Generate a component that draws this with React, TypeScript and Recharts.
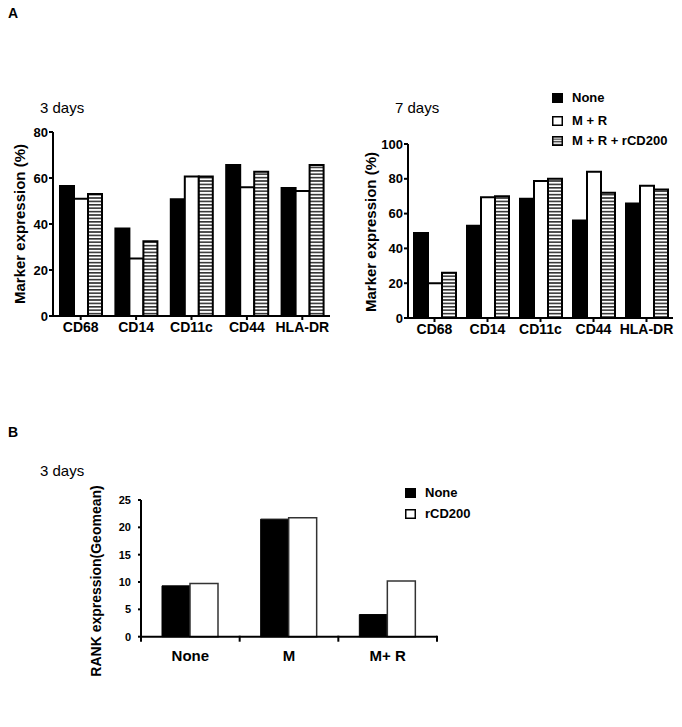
import { BarChart, Bar, XAxis, YAxis } from 'recharts'

// panel A categories and series
const markers = ['CD68', 'CD14', 'CD11c', 'CD44', 'HLA-DR']
const none3 = [56.5, 38, 50.8, 65.7, 55.6]
const mr3 = [51, 25, 60.7, 56, 54.3]
const mrCd3 = [53, 32.5, 60.7, 62.7, 65.7]
const none7 = [48.8, 53, 68.5, 56, 65.8]
const mr7 = [20, 69.4, 78.7, 84, 76]
const mrCd7 = [26, 70, 80, 72, 73.8]
const ticks3 = [0, 20, 40, 60, 80]
const ticks7 = [0, 20, 40, 60, 80, 100]

// panel B
const groupsB = ['None', 'M', 'M+ R']
const noneB = [9.3, 21.5, 4.05]
const rcdB = [9.75, 21.75, 10.2]
const ticksB = [0, 5, 10, 15, 20, 25]

const data3 = markers.map((m, i) => ({ name: m, none: none3[i], mr: mr3[i], mrc: mrCd3[i] }))
const data7 = markers.map((m, i) => ({ name: m, none: none7[i], mr: mr7[i], mrc: mrCd7[i] }))
const dataB = groupsB.map((g, i) => ({ name: g, none: noneB[i], rcd: rcdB[i] }))

const ARIAL = '"Liberation Sans", Arial, Helvetica, sans-serif'
const NARROW = '"Liberation Sans Narrow", "Liberation Sans", Arial, sans-serif'
const B_PLOT_W = 296

const tickA = { fill: '#000', fontSize: 13, fontWeight: 700, fontFamily: ARIAL }
const tickAx = { fill: '#000', fontSize: 14, fontWeight: 700, fontFamily: ARIAL }

function Hatch({ id }: { id: string }) {
	return (
		<defs>
			<pattern id={id} width={4} height={3.4} patternUnits="userSpaceOnUse">
				<rect width={4} height={3.4} fill="#fff" />
				<rect width={4} height={1.6} fill="#333" />
			</pattern>
		</defs>
	)
}

function BTick(props: any) {
	const { x, y, payload, index } = props
	const band = B_PLOT_W / groupsB.length
	return (
		<g>
			<line x1={x - band / 2} x2={x - band / 2} y1={y - 1} y2={y + 5} stroke="#000" strokeWidth={2} />
			{index === groupsB.length - 1 && (
				<line x1={x + band / 2} x2={x + band / 2} y1={y - 1} y2={y + 5} stroke="#000" strokeWidth={2} />
			)}
			<text x={x} y={y + 24} textAnchor="middle" fill="#000" fontSize={15} fontWeight={700} fontFamily={NARROW}>
				{payload.value}
			</text>
		</g>
	)
}

function Swatch({ kind, id }: { kind: 'black' | 'white' | 'hatch'; id: string }) {
	return (
		<svg width={11} height={10} style={{ display: 'block' }}>
			{kind === 'hatch' && (
				<defs>
					<pattern id={id} width={4} height={2.6} patternUnits="userSpaceOnUse">
						<rect width={4} height={2.6} fill="#fff" />
						<rect width={4} height={1.2} fill="#333" />
					</pattern>
				</defs>
			)}
			<rect
				x={0.75}
				y={0.75}
				width={9.5}
				height={8.5}
				fill={kind === 'black' ? '#000' : kind === 'white' ? '#fff' : `url(#${id})`}
				stroke="#000"
				strokeWidth={1.5}
			/>
		</svg>
	)
}

function LegendRow({ top, left, kind, label, id }: any) {
	return (
		<div style={{ position: 'absolute', top, left, display: 'flex', alignItems: 'center', gap: 9 }}>
			<Swatch kind={kind} id={id} />
			<span style={{ fontFamily: ARIAL, fontWeight: 700, fontSize: 13, lineHeight: '14px' }}>{label}</span>
		</div>
	)
}

const abs = (left: number, top: number): React.CSSProperties => ({ position: 'absolute', left, top })

const yLabel = (cx: number, cy: number, w: number, size: number): React.CSSProperties => ({
	...abs(cx - w / 2, cy - 10),
	width: w,
	textAlign: 'center',
	transform: 'rotate(-90deg)',
	fontFamily: ARIAL,
	fontWeight: 700,
	fontSize: size,
	lineHeight: '20px',
	whiteSpace: 'nowrap',
})

export default function App() {
	return (
		<div style={{ position: 'absolute', left: 0, top: 0, width: 682, height: 727, background: '#fff', color: '#000' }}>
			<div style={{ ...abs(8, 5), fontFamily: ARIAL, fontWeight: 700, fontSize: 14 }}>A</div>
			<div style={{ ...abs(40, 99), fontFamily: ARIAL, fontSize: 15 }}>3 days</div>
			<div style={{ ...abs(395, 99), fontFamily: ARIAL, fontSize: 15 }}>7 days</div>

			{/* 3 days */}
			<div style={abs(0, 0)}>
				<BarChart width={340} height={340} data={data3} margin={{ top: 132, right: 10, left: 0, bottom: 0 }} barGap={0}>
					<Hatch id="hatchL" />
					<XAxis dataKey="name" height={24} tick={tickAx} tickSize={4} tickMargin={2} axisLine={{ stroke: '#000', strokeWidth: 2 }} tickLine={{ stroke: '#000', strokeWidth: 2 }} interval={0} />
					<YAxis domain={[0, 80]} ticks={ticks3} width={53} tick={tickA} tickSize={4} tickMargin={1} axisLine={{ stroke: '#000', strokeWidth: 2 }} tickLine={{ stroke: '#000', strokeWidth: 2 }} />
					<Bar dataKey="none" fill="#000" stroke="#000" strokeWidth={2} barSize={14} isAnimationActive={false} />
					<Bar dataKey="mr" fill="#fff" stroke="#000" strokeWidth={2} barSize={14} isAnimationActive={false} />
					<Bar dataKey="mrc" fill="url(#hatchL)" stroke="#000" strokeWidth={2} barSize={14} isAnimationActive={false} />
				</BarChart>
			</div>
			<div style={yLabel(20, 224, 180, 15)}>Marker expression (%)</div>

			{/* 7 days */}
			<div style={abs(340, 0)}>
				<BarChart width={342} height={342} data={data7} margin={{ top: 144, right: 9, left: 0, bottom: 0 }} barGap={0}>
					<Hatch id="hatchR" />
					<XAxis dataKey="name" height={24} tick={tickAx} tickSize={4} tickMargin={2} axisLine={{ stroke: '#000', strokeWidth: 2 }} tickLine={{ stroke: '#000', strokeWidth: 2 }} interval={0} />
					<YAxis domain={[0, 100]} ticks={ticks7} width={68} tick={tickA} tickSize={4} tickMargin={1} axisLine={{ stroke: '#000', strokeWidth: 2 }} tickLine={{ stroke: '#000', strokeWidth: 2 }} />
					<Bar dataKey="none" fill="#000" stroke="#000" strokeWidth={2} barSize={14} isAnimationActive={false} />
					<Bar dataKey="mr" fill="#fff" stroke="#000" strokeWidth={2} barSize={14} isAnimationActive={false} />
					<Bar dataKey="mrc" fill="url(#hatchR)" stroke="#000" strokeWidth={2} barSize={14} isAnimationActive={false} />
				</BarChart>
			</div>
			<div style={yLabel(371, 232, 180, 15)}>Marker expression (%)</div>
			<LegendRow top={91} left={552} kind="black" label="None" id="lgA1" />
			<LegendRow top={114} left={552} kind="white" label="M + R" id="lgA2" />
			<LegendRow top={134} left={552} kind="hatch" label="M + R + rCD200" id="lgA3" />

			{/* panel B */}
			<div style={{ ...abs(8, 424), fontFamily: ARIAL, fontWeight: 700, fontSize: 14 }}>B</div>
			<div style={{ ...abs(40, 462), fontFamily: ARIAL, fontSize: 15 }}>3 days</div>
			<div style={abs(0, 470)}>
				<BarChart width={450} height={257} data={dataB} margin={{ top: 30, right: 13, left: 0, bottom: 0 }} barGap={0}>
					<XAxis dataKey="name" height={90.3} tick={<BTick />} tickSize={0} tickMargin={0} axisLine={{ stroke: '#000', strokeWidth: 2 }} tickLine={false} interval={0} />
					<YAxis domain={[0, 25]} ticks={ticksB} width={141} tick={{ fill: '#000', fontSize: 11, fontWeight: 700, fontFamily: NARROW }} tickSize={3} tickMargin={7} axisLine={{ stroke: '#000', strokeWidth: 2 }} tickLine={{ stroke: '#000', strokeWidth: 2 }} />
					<Bar dataKey="none" fill="#000" stroke="#000" strokeWidth={1} barSize={28} isAnimationActive={false} />
					<Bar dataKey="rcd" fill="#fff" stroke="#333" strokeWidth={1.5} barSize={28} isAnimationActive={false} />
				</BarChart>
			</div>
			<div style={yLabel(96, 581, 220, 14)}>RANK expression(Geomean)</div>
			<LegendRow top={486} left={405} kind="black" label="None" id="lgB1" />
			<LegendRow top={507} left={405} kind="white" label="rCD200" id="lgB2" />
		</div>
	)
}
